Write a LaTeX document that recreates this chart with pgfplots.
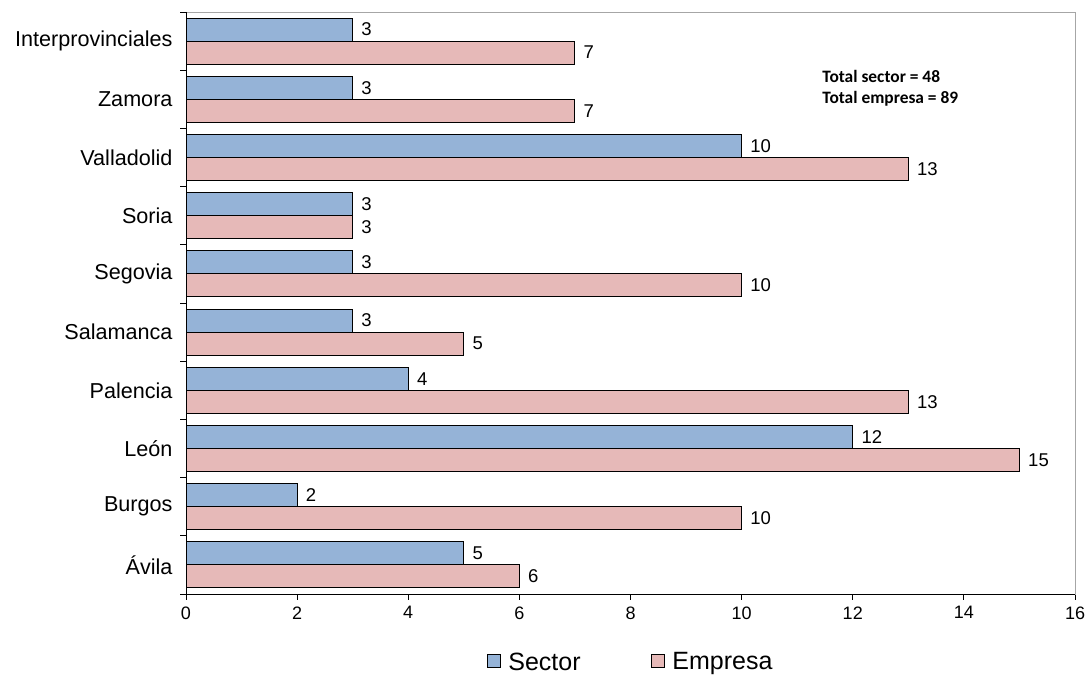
\documentclass[border=0pt]{standalone}
\usepackage{pgfplots}
\pgfplotsset{compat=1.18}
\usepackage{fontspec}
\setmainfont{Liberation Sans}
\newfontfamily\calibri{Carlito}
\definecolor{sectorc}{HTML}{95B3D7}
\definecolor{empresac}{HTML}{E6B9B8}
\begin{document}
\begin{tikzpicture}
\path (0pt,0pt) rectangle (1089pt,675pt);
\begin{axis}[
  at={(186pt,81pt)}, anchor=south west,
  scale only axis, width=889pt, height=582pt,
  xbar,
  xmin=0, xmax=16, ymin=-0.5, ymax=9.5,
  xtick={0,2,...,16},
  ytick={0,...,9},
  yticklabels={Ávila,Burgos,León,Palencia,Salamanca,Segovia,Soria,Valladolid,Zamora,Interprovinciales},
  minor ytick={-0.5,0.5,...,9.5},
  major y tick style={draw=none},
  tick align=outside, tickpos=left,
  major tick length=6pt, minor tick length=6pt,
  tick style={black, line width=0.8pt},
  /pgf/number format/assume math mode=true,
  xticklabel style={font=\fontsize{18}{20}\selectfont, yshift=-3pt},
  yticklabel style={font=\fontsize{21.6}{24}\selectfont, xshift=-4pt},
  axis line style={gray!70, line width=0.8pt},
  bar width=23pt,
  nodes near coords,
  every node near coord/.append style={font=\fontsize{18.5}{20}\selectfont, black, xshift=5pt},
  legend style={at={(0.5,-0.117)}, anchor=center, draw=none, legend columns=2,
    font=\fontsize{25}{28}\selectfont,
    /tikz/every even column/.append style={column sep=68pt}},
  legend image code/.code={\draw[#1, draw=black, line width=0.8pt] (0pt,-5.5pt) rectangle (13pt,7.5pt); \path (19pt,0pt);},
  clip=false,
]
\addplot[fill=sectorc, draw=black, line width=0.9pt, bar shift=11.5pt] coordinates {
  (5,0) (2,1) (12,2) (4,3) (3,4) (3,5) (3,6) (10,7) (3,8) (3,9)};
\addplot[fill=empresac, draw=black, line width=0.9pt, bar shift=-11.5pt] coordinates {
  (6,0) (10,1) (15,2) (13,3) (5,4) (10,5) (3,6) (13,7) (7,8) (7,9)};
\legend{Sector, Empresa}
\draw[black, line width=0.9pt] (rel axis cs:0,1) -- (rel axis cs:0,0) -- (rel axis cs:1,0);
\node[anchor=base west, font=\calibri\bfseries\fontsize{17.4}{20}\selectfont, inner sep=0pt] at (axis cs:11.45,8.28) {Total sector = 48};
\node[anchor=base west, font=\calibri\bfseries\fontsize{17.4}{20}\selectfont, inner sep=0pt] at (axis cs:11.45,7.92) {Total empresa = 89};
\end{axis}
\end{tikzpicture}
\end{document}
